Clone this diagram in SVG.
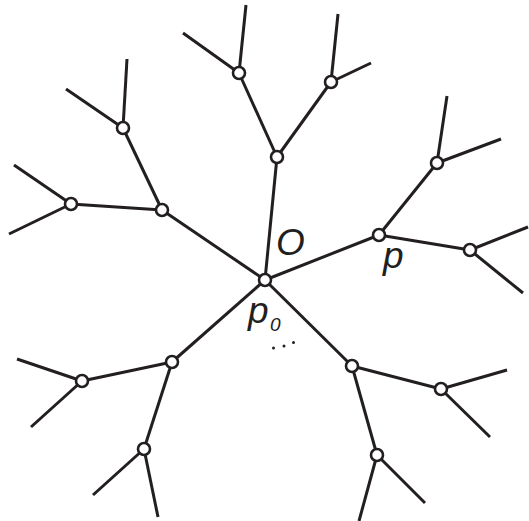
<svg xmlns="http://www.w3.org/2000/svg" width="529" height="521" viewBox="0 0 529 521">
<style>
.e{stroke:#231f20;stroke-width:3;fill:none;stroke-linecap:butt}
.n{fill:#fff;stroke:#231f20;stroke-width:2.6}
.t{font-family:"Liberation Sans",Arial,sans-serif;font-style:italic;fill:#231f20}
</style>
<rect width="529" height="521" fill="#fff"/>
<g id="connectors" class="e">
<line x1="265" y1="280" x2="277" y2="157"/>
<line x1="277" y1="157" x2="239" y2="73"/>
<line x1="239" y1="73" x2="246" y2="5"/>
<line x1="239" y1="73" x2="183" y2="33"/>
<line x1="277" y1="157" x2="331" y2="82"/>
<line x1="331" y1="82" x2="338" y2="14"/>
<line x1="331" y1="82" x2="371" y2="63"/>
<line x1="265" y1="280" x2="162" y2="210"/>
<line x1="162" y1="210" x2="123" y2="128"/>
<line x1="123" y1="128" x2="127" y2="59"/>
<line x1="123" y1="128" x2="66" y2="89"/>
<line x1="162" y1="210" x2="71" y2="204"/>
<line x1="71" y1="204" x2="14" y2="165"/>
<line x1="71" y1="204" x2="9" y2="234"/>
<line x1="265" y1="280" x2="379" y2="235"/>
<line x1="379" y1="235" x2="437" y2="163"/>
<line x1="437" y1="163" x2="447" y2="96"/>
<line x1="437" y1="163" x2="501" y2="139"/>
<line x1="379" y1="235" x2="470" y2="250"/>
<line x1="470" y1="250" x2="528" y2="227"/>
<line x1="470" y1="250" x2="523" y2="293"/>
<line x1="265" y1="280" x2="172" y2="362"/>
<line x1="172" y1="362" x2="82" y2="381"/>
<line x1="82" y1="381" x2="17" y2="359"/>
<line x1="82" y1="381" x2="31" y2="427"/>
<line x1="172" y1="362" x2="144" y2="449"/>
<line x1="144" y1="449" x2="93" y2="495"/>
<line x1="144" y1="449" x2="158" y2="517"/>
<line x1="265" y1="280" x2="352" y2="366"/>
<line x1="352" y1="366" x2="441" y2="389"/>
<line x1="441" y1="389" x2="507" y2="370"/>
<line x1="441" y1="389" x2="490" y2="437"/>
<line x1="352" y1="366" x2="377" y2="455"/>
<line x1="377" y1="455" x2="359" y2="521"/>
<line x1="377" y1="455" x2="425" y2="503"/>
</g>
<g id="p0"><circle class="n" cx="265" cy="280" r="6"/></g>
<g id="n1"><circle class="n" cx="277" cy="157" r="6"/></g>
<g id="n1a"><circle class="n" cx="239" cy="73" r="6"/></g>
<g id="n1b"><circle class="n" cx="331" cy="82" r="6"/></g>
<g id="n2"><circle class="n" cx="162" cy="210" r="6"/></g>
<g id="n2a"><circle class="n" cx="123" cy="128" r="6"/></g>
<g id="n2b"><circle class="n" cx="71" cy="204" r="6"/></g>
<g id="p"><circle class="n" cx="379" cy="235" r="6"/></g>
<g id="n3a"><circle class="n" cx="437" cy="163" r="6"/></g>
<g id="n3b"><circle class="n" cx="470" cy="250" r="6"/></g>
<g id="n4"><circle class="n" cx="172" cy="362" r="6"/></g>
<g id="n4a"><circle class="n" cx="82" cy="381" r="6"/></g>
<g id="n4b"><circle class="n" cx="144" cy="449" r="6"/></g>
<g id="n5"><circle class="n" cx="352" cy="366" r="6"/></g>
<g id="n5a"><circle class="n" cx="441" cy="389" r="6"/></g>
<g id="n5b"><circle class="n" cx="377" cy="455" r="6"/></g>
<g id="labels">
<text class="t" x="276" y="255" font-size="37">O</text>
<text class="t" x="383" y="268" font-size="37">p</text>
<text class="t" x="248" y="323" font-size="37">p</text>
<text class="t" x="270" y="331" font-size="19">0</text>
<g fill="#231f20"><circle cx="273.5" cy="348" r="1.5"/><circle cx="284" cy="346" r="1.5"/><circle cx="293.5" cy="342.5" r="1.5"/></g>
</g>
</svg>
